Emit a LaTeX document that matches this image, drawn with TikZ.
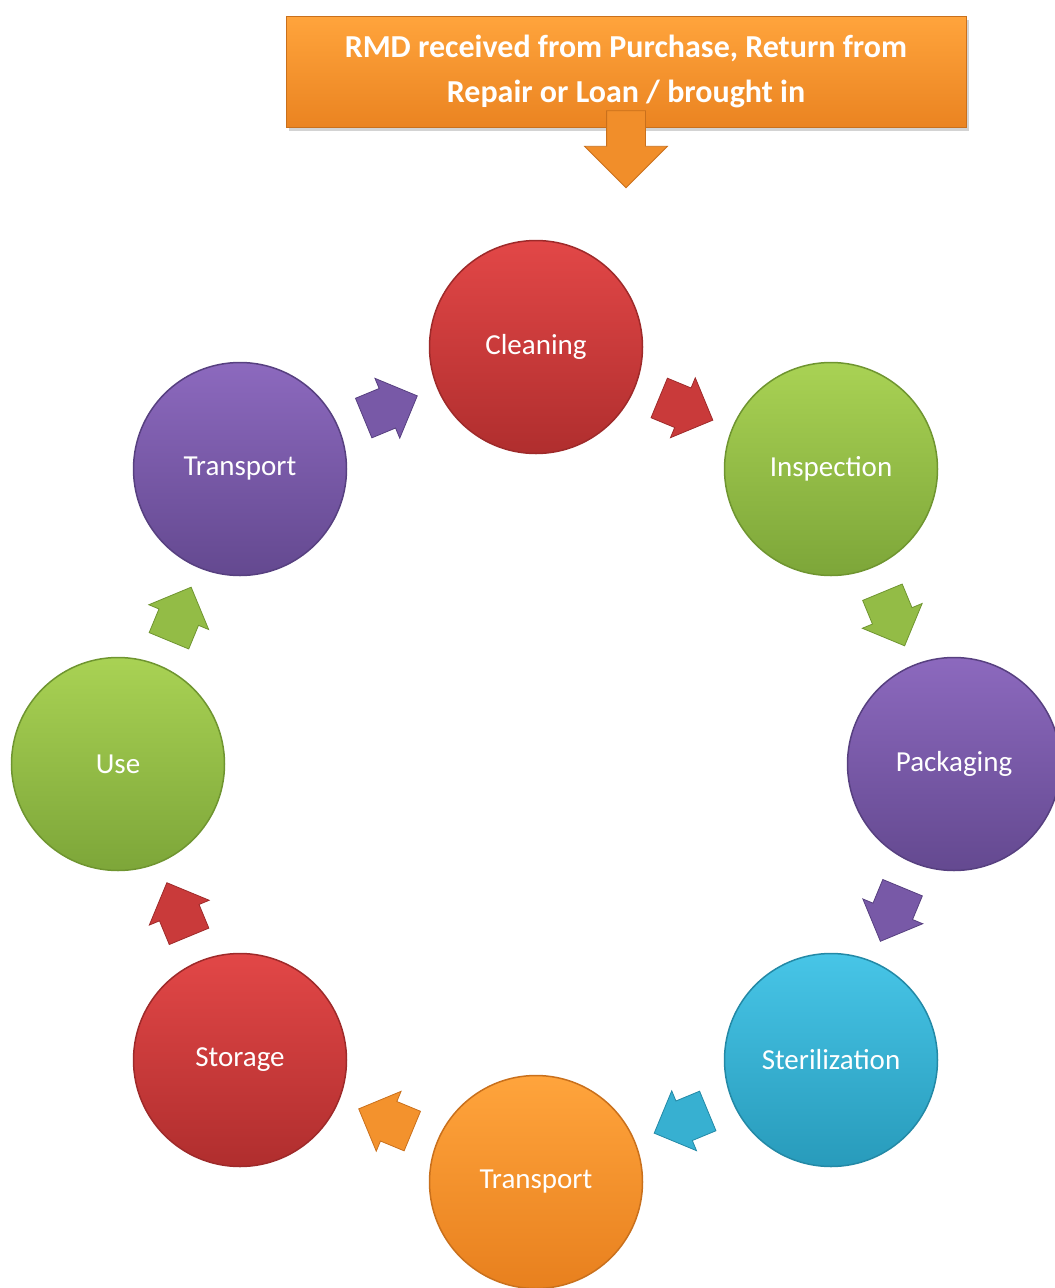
\documentclass[tikz,border=0pt]{standalone}
\usepackage{fontspec}
\setmainfont{Carlito}
\usetikzlibrary{shapes.arrows,shadows,calc}
\definecolor{redT}{HTML}{E24747}\definecolor{redB}{HTML}{B02E2E}\definecolor{redD}{HTML}{9E2A2A}
\definecolor{grnT}{HTML}{A9D254}\definecolor{grnB}{HTML}{7DA639}\definecolor{grnD}{HTML}{6F9530}
\definecolor{purT}{HTML}{8C69BE}\definecolor{purB}{HTML}{644990}\definecolor{purD}{HTML}{574080}
\definecolor{cyaT}{HTML}{47C5E7}\definecolor{cyaB}{HTML}{289BBB}\definecolor{cyaD}{HTML}{2389A6}
\definecolor{orgT}{HTML}{FFA43C}\definecolor{orgB}{HTML}{E8801E}\definecolor{orgD}{HTML}{C9701C}
\tikzset{
  stage/.style={circle, minimum size=213pt, inner sep=0pt, line width=1.5pt, text=white,
    font=\fontsize{29}{34}\selectfont, top color=#1T, bottom color=#1B, draw=#1D},
  flow/.style={single arrow, text height=0pt, text depth=0pt, text width=0pt,
    inner xsep=6pt, inner ysep=21pt,
    single arrow head extend=11pt, minimum height=58pt, minimum width=0pt,
    fill=#1T!50!#1B, draw=#1D, line width=0.8pt},
}
\begin{document}
\begin{tikzpicture}[x=1pt,y=-1pt]
\useasboundingbox (0,0) rectangle (1055,1288);
% top box
\node[rectangle, minimum width=680pt, minimum height=111pt, inner sep=0pt,
  top color=orgT, bottom color=orgB!90!orgT, draw=orgD, line width=1pt,
  drop shadow={shadow xshift=3pt, shadow yshift=-4pt, opacity=0.35},
  text=white, align=center, font=\bfseries\fontsize{32}{45}\selectfont]
  (src) at (626,71.5) {RMD received from Purchase, Return from\\Repair or Loan / brought in};
\node[single arrow, rotate=-90, text height=0pt, text depth=0pt, text width=0pt, inner sep=19pt,
  single arrow head extend=22pt, minimum height=77pt, minimum width=0pt,
  fill=orgT!40!orgB, draw=orgD, line width=0.8pt] (down) at (626,139.5) {};
% stages
\node[stage=red] (clean) at (536,347) {Cleaning};
\node[stage=grn] (insp) at (831,469) {Inspection};
\node[stage=pur] (pack) at (954,764) {Packaging};
\node[stage=cya] (ster) at (831,1060) {Sterilization};
\node[stage=org] (trb) at (536,1182) {Transport};
\node[stage=red] (stor) at (240,1060) {Storage};
\node[stage=grn] (use) at (118,764) {Use};
\node[stage=pur] (trt) at (240,469) {Transport};
% flow arrows
\node[flow=pur, rotate=22.5] (a1) at ($(trt)!0.475!(clean)$) {};
\node[flow=red, rotate=-22.5] (a2) at ($(clean)!0.475!(insp)$) {};
\node[flow=grn, rotate=-67.5] (a3) at ($(insp)!0.475!(pack)$) {};
\node[flow=pur, rotate=-112.5] (a4) at ($(pack)!0.475!(ster)$) {};
\node[flow=cya, rotate=-157.5] (a5) at ($(ster)!0.475!(trb)$) {};
\node[flow=org, rotate=157.5] (a6) at ($(trb)!0.475!(stor)$) {};
\node[flow=red, rotate=112.5] (a7) at ($(stor)!0.475!(use)$) {};
\node[flow=grn, rotate=67.5] (a8) at ($(use)!0.475!(trt)$) {};
\end{tikzpicture}
\end{document}
